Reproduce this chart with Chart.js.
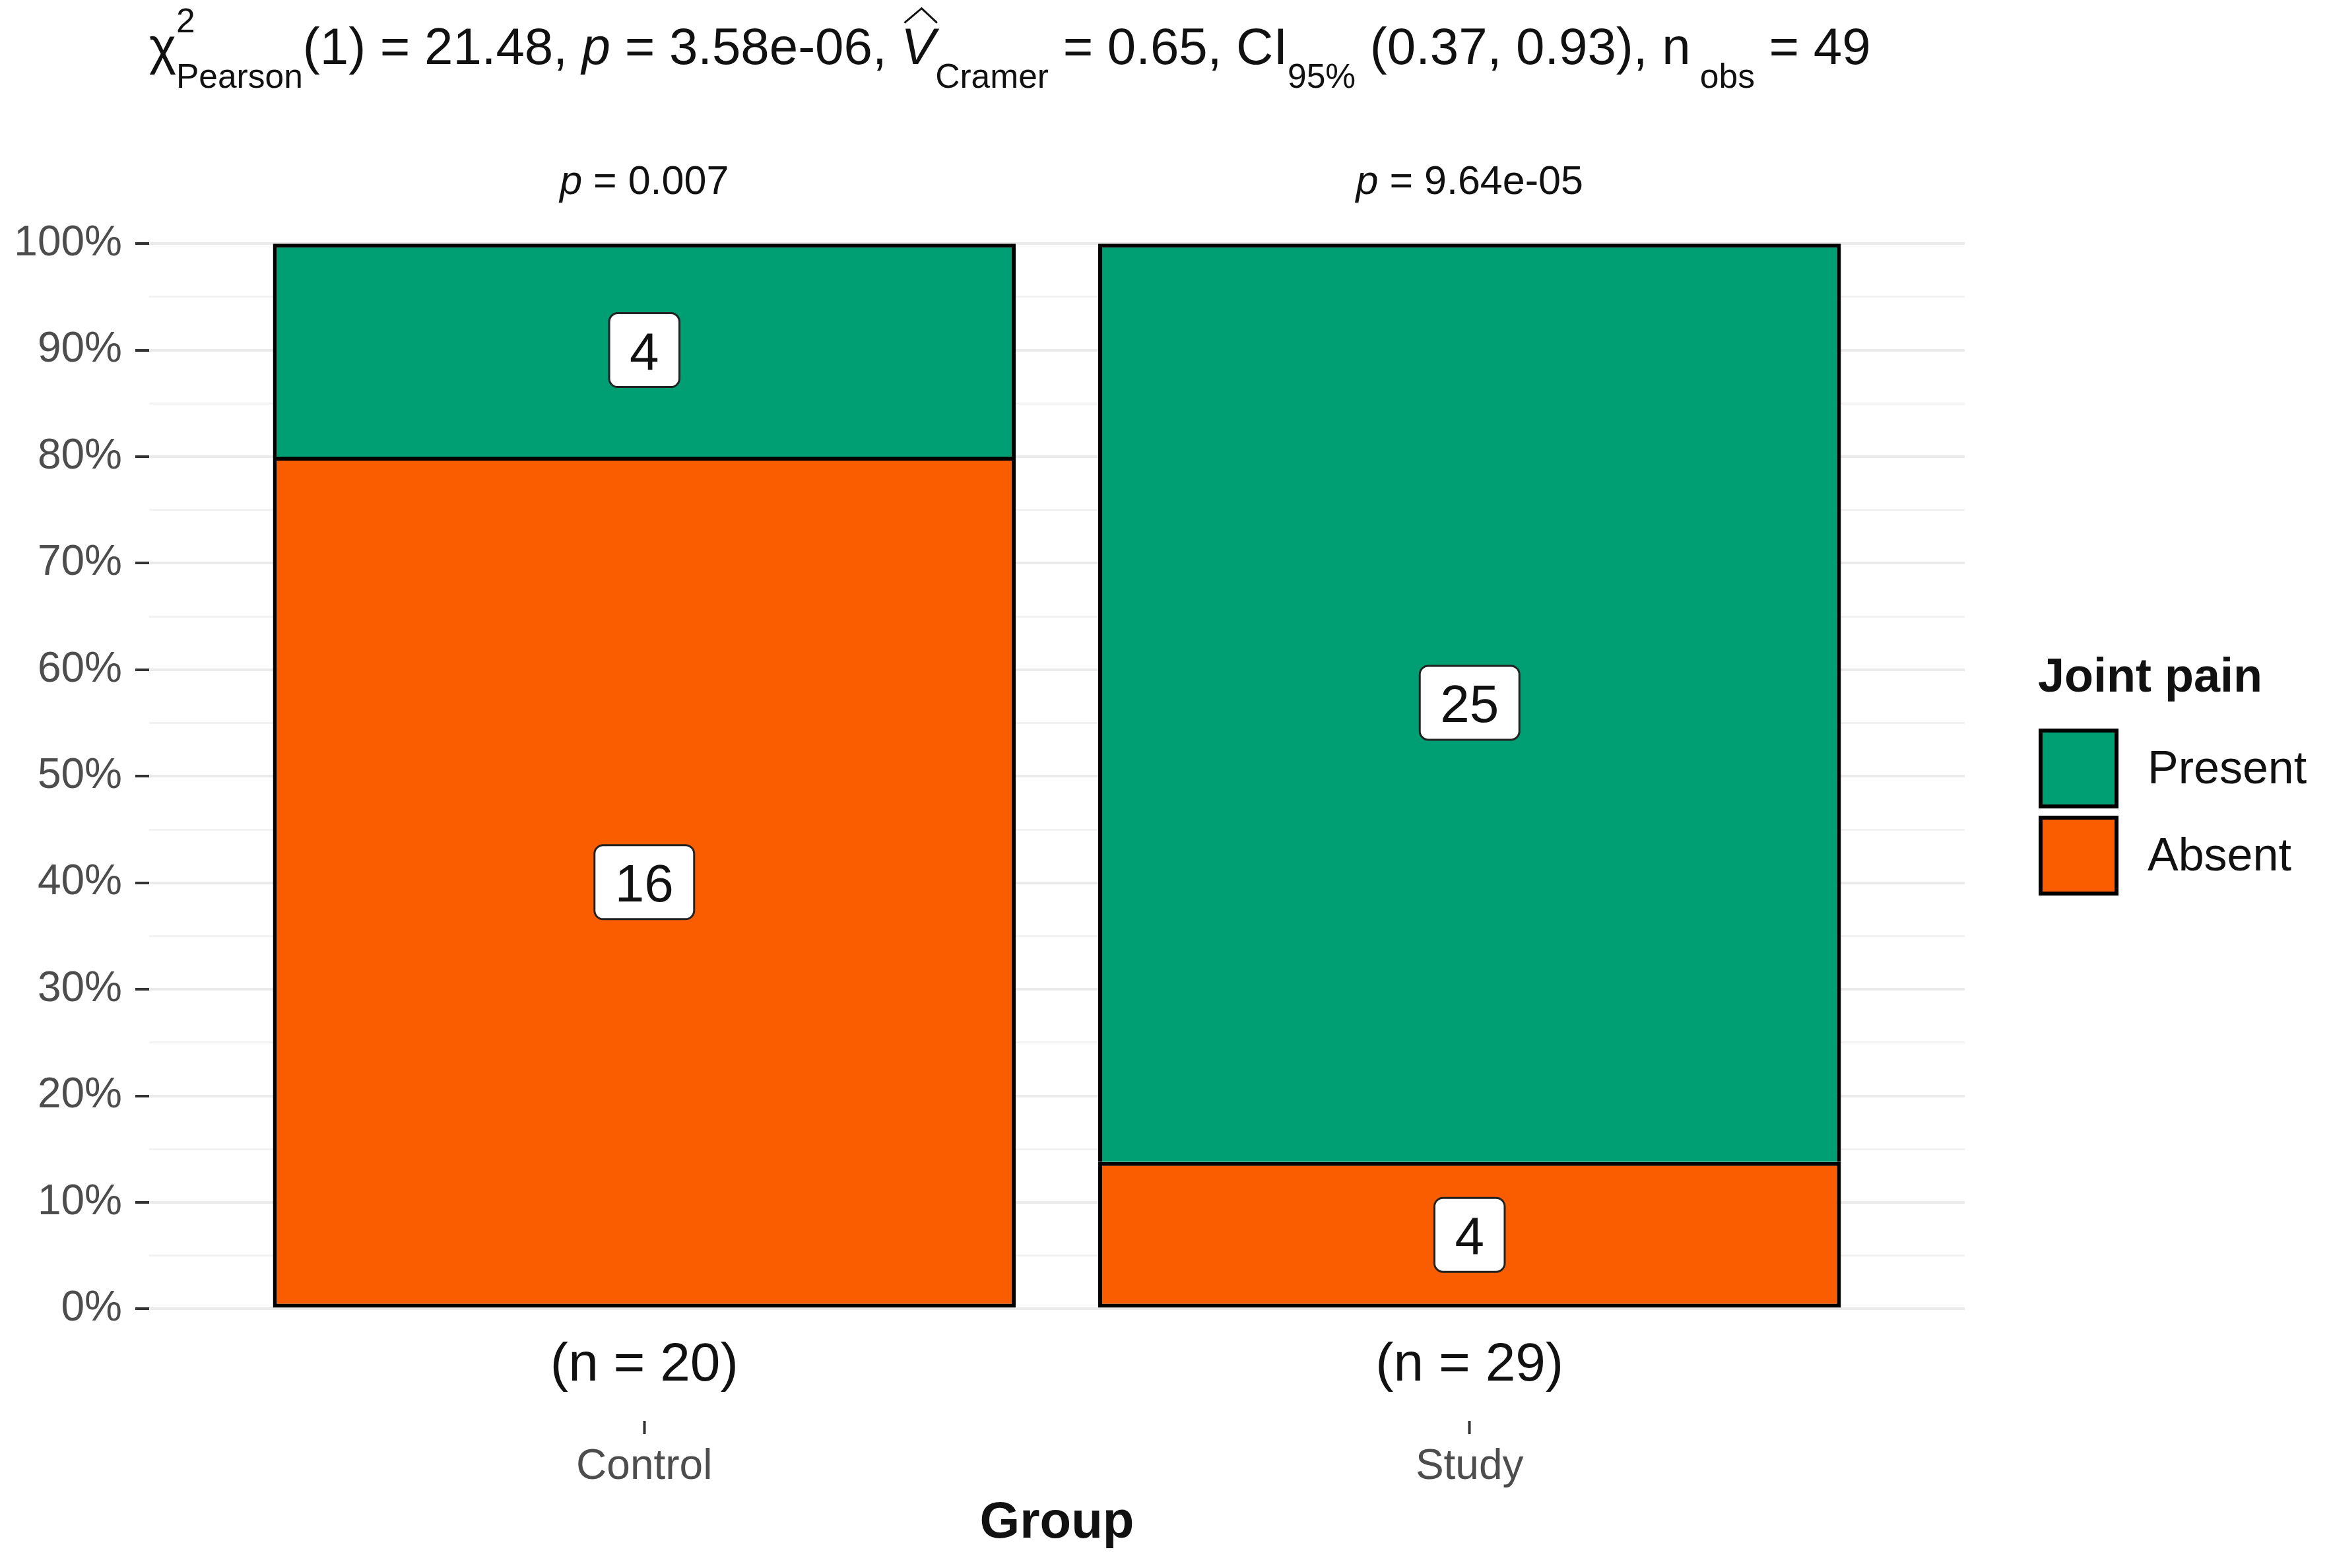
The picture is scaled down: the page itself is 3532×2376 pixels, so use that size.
<!DOCTYPE html>
<html>
<head>
<meta charset="utf-8">
<script src="https://cdn.jsdelivr.net/npm/chart.js@4.4.1/dist/chart.umd.min.js"></script>
<style>
  html, body { margin: 0; padding: 0; background: #fff; }
  #wrap { width: 3532px; height: 2376px; position: relative; }
</style>
</head>
<body>
<div id="wrap"><canvas id="chart"></canvas></div>
<script>
// Data
const groups = ['Control', 'Study'];
const groupN = [20, 29];
const presentCounts = [4, 25];
const absentCounts = [16, 4];
const groupP = ['0.007', '9.64e-05'];
const yMajorPercents = [0, 10, 20, 30, 40, 50, 60, 70, 80, 90, 100];
const yMinorPercents = [5, 15, 25, 35, 45, 55, 65, 75, 85, 95];

const FONT = "'Liberation Sans', Arial, sans-serif";
const GREEN = '#009E73';
const ORANGE = '#F95D00';

const isMajor = v => Math.round(v * 100) % 10 === 0;

// Subtitle with sub/superscripts, drawn as runs of text
const drawSubtitle = (ctx, x0, baseline, targetWidth) => {
  const runs = (size, draw) => {
    const sub = size * 0.66;
    let x = x0;
    const put = (txt, px, dy, style) => {
      ctx.font = `${style || 'normal'} ${px}px ${FONT}`;
      const w = ctx.measureText(txt).width;
      if (draw) ctx.fillText(txt, x, baseline + dy);
      return w;
    };
    x += put('\u03C7', size, 0);
    const wSup = put('2', sub, -size * 0.62);
    const wSub = put('Pearson', sub, size * 0.46);
    x += Math.max(wSup, wSub);
    x += put('(1) = 21.48, ', size, 0);
    x += put('p', size, 0, 'italic');
    x += put(' = 3.58e-06, ', size, 0);
    const vx = x;
    const wV = put('V', size, 0, 'italic');
    if (draw) {
      ctx.beginPath();
      ctx.lineWidth = 3;
      ctx.strokeStyle = '#111';
      ctx.moveTo(vx + wV * 0.1, baseline - size * 0.8);
      ctx.lineTo(vx + wV * 0.6, baseline - size * 1.08);
      ctx.lineTo(vx + wV * 1.05, baseline - size * 0.8);
      ctx.stroke();
    }
    x += wV;
    x += put('Cramer', sub, size * 0.46);
    x += put(' = 0.65, CI', size, 0);
    x += put('95%', sub, size * 0.46);
    x += put(' (0.37, 0.93), n', size, 0);
    x += put(' obs', sub, size * 0.46);
    x += put(' = 49', size, 0);
    return x - x0;
  };
  const base = 64;
  const w = runs(base, false);
  ctx.fillStyle = '#111';
  ctx.textAlign = 'left';
  ctx.textBaseline = 'alphabetic';
  runs(base * targetWidth / w, true);
};

const annotate = {
  id: 'annotate',
  afterDatasetsDraw(chart) {
    const { ctx } = chart;
    ctx.save();
    chart.data.datasets.forEach((ds, di) => {
      const meta = chart.getDatasetMeta(di);
      meta.data.forEach((bar, i) => {
        const label = String(ds.counts[i]);
        const cy = (bar.y + bar.base) / 2;
        ctx.font = `80px ${FONT}`;
        const tw = ctx.measureText(label).width;
        const bw = tw + 62, bh = 112;
        ctx.beginPath();
        ctx.roundRect(bar.x - bw / 2, cy - bh / 2, bw, bh, 13);
        ctx.fillStyle = '#fff';
        ctx.fill();
        ctx.lineWidth = 3;
        ctx.strokeStyle = '#222';
        ctx.stroke();
        ctx.fillStyle = '#111';
        ctx.textAlign = 'center';
        ctx.textBaseline = 'alphabetic';
        ctx.fillText(label, bar.x, cy + 29);
      });
    });
    ctx.restore();
  },
  afterDraw(chart) {
    const { ctx, chartArea, scales: { x, y } } = chart;
    ctx.save();

    drawSubtitle(ctx, chartArea.left, 97, 2609);

    // p-values above bars, (n = ..) below
    groups.forEach((g, i) => {
      const cx = x.getPixelForValue(i + 1);
      ctx.fillStyle = '#111';
      ctx.textBaseline = 'alphabetic';
      ctx.textAlign = 'left';
      ctx.font = `italic 61px ${FONT}`;
      const wp = ctx.measureText('p').width;
      ctx.font = `61px ${FONT}`;
      const rest = ' = ' + groupP[i];
      const wr = ctx.measureText(rest).width;
      const px = cx - (wp + wr) / 2;
      const py = y.getPixelForValue(1.05) + 6;
      ctx.font = `italic 61px ${FONT}`;
      ctx.fillText('p', px, py);
      ctx.font = `61px ${FONT}`;
      ctx.fillText(rest, px + wp, py);

      ctx.textAlign = 'center';
      ctx.font = `82px ${FONT}`;
      ctx.fillText(`(n = ${groupN[i]})`, cx, y.getPixelForValue(-0.05) + 28);
    });

    // legend
    const lx = chartArea.right + 112;
    ctx.textAlign = 'left';
    ctx.fillStyle = '#111';
    ctx.font = `bold 72px ${FONT}`;
    ctx.fillText('Joint pain', lx - 1, 1048);
    const items = chart.data.datasets.slice().reverse();
    items.forEach((ds, k) => {
      const top = 1104 + k * 132;
      ctx.fillStyle = ds.backgroundColor;
      ctx.fillRect(lx, top, 121, 121);
      ctx.lineWidth = 6;
      ctx.strokeStyle = '#000';
      ctx.strokeRect(lx + 3, top + 3, 115, 115);
      ctx.fillStyle = '#111';
      ctx.font = `70px ${FONT}`;
      ctx.fillText(ds.label, lx + 165, top + 83);
    });
    ctx.restore();
  }
};

const ctx = document.getElementById('chart').getContext('2d');
new Chart(ctx, {
  type: 'bar',
  data: {
    datasets: [
      {
        label: 'Absent',
        counts: absentCounts,
        data: groups.map((g, i) => ({ x: i + 1, y: absentCounts[i] / groupN[i] })),
        backgroundColor: ORANGE,
        borderColor: '#000',
        borderWidth: 6,
        borderSkipped: false
      },
      {
        label: 'Present',
        counts: presentCounts,
        data: groups.map((g, i) => ({ x: i + 1, y: presentCounts[i] / groupN[i] })),
        backgroundColor: GREEN,
        borderColor: '#000',
        borderWidth: 6,
        borderSkipped: 'start'
      }
    ]
  },
  options: {
    responsive: true,
    maintainAspectRatio: false,
    devicePixelRatio: 1,
    animation: false,
    barPercentage: 0.9,
    categoryPercentage: 1.0,
    layout: { padding: { top: 240, right: 555, left: 0, bottom: 0 } },
    plugins: {
      legend: { display: false },
      tooltip: { enabled: false }
    },
    scales: {
      x: {
        type: 'linear',
        stacked: true,
        offset: false,
        min: 0.4,
        max: 2.6,
        afterBuildTicks: s => { s.ticks = groups.map((g, i) => ({ value: i + 1 })); },
        afterFit: s => { s.height = 2376 - 2153; },
        border: { display: false },
        grid: {
          offset: false,
          drawOnChartArea: false,
          color: 'transparent',
          tickColor: '#333',
          tickLength: 20,
          tickWidth: 4
        },
        ticks: {
          autoSkip: false,
          maxRotation: 0,
          padding: 12,
          color: '#4D4D4D',
          font: { family: FONT, size: 64 },
          callback: v => groups[v - 1] || ''
        },
        title: {
          display: true,
          text: 'Group',
          color: '#111',
          font: { family: FONT, size: 78, weight: 'bold' },
          padding: { top: 0, bottom: 21 }
        }
      },
      y: {
        stacked: true,
        min: -0.105,
        max: 1.08,
        afterBuildTicks: s => {
          s.ticks = yMajorPercents.concat(yMinorPercents)
            .sort((a, b) => a - b)
            .map(p => ({ value: p / 100 }));
        },
        afterFit: s => { s.width = 226; },
        border: { display: false },
        grid: {
          color: c => isMajor(c.tick.value) ? '#EBEBEB' : '#F2F2F2',
          lineWidth: c => isMajor(c.tick.value) ? 4 : 3,
          tickColor: c => isMajor(c.tick.value) ? '#333' : 'transparent',
          tickLength: 21,
          tickWidth: 4
        },
        ticks: {
          autoSkip: false,
          padding: 20,
          color: '#4D4D4D',
          font: { family: FONT, size: 64 },
          callback: v => isMajor(v) ? Math.round(v * 100) + '%' : ''
        }
      }
    }
  },
  plugins: [annotate]
});
</script>
</body>
</html>
